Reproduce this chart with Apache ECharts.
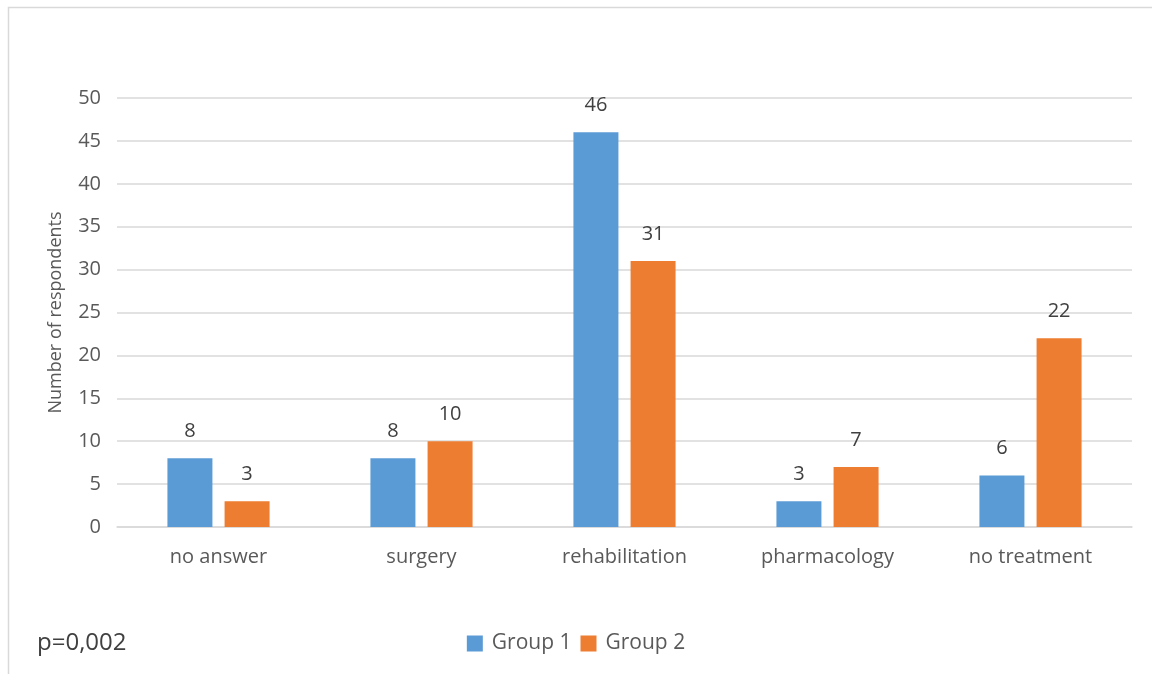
<!DOCTYPE html>
<html>
<head>
<meta charset="utf-8">
<script src="https://cdn.jsdelivr.net/npm/echarts@6/dist/echarts.min.js"></script>
<style>html,body{margin:0;padding:0;background:#fff}#c{width:1152px;height:674px}</style>
</head>
<body>
<div id="c"></div>
<script>
const categories = ['no answer', 'surgery', 'rehabilitation', 'pharmacology', 'no treatment'];
const group1 = [8, 8, 46, 3, 6];
const group2 = [3, 10, 31, 7, 22];
const yTicks = { min: 0, max: 50, interval: 5 };

const FONT = '"Open Sans", "DejaVu Sans", sans-serif';
const chart = echarts.init(document.getElementById('c'), null, { renderer: 'canvas' });
const labelStyle = { show: true, position: 'top', distance: 17, color: '#404040', fontSize: 20, fontFamily: FONT };
chart.setOption({
  animation: false,
  backgroundColor: '#fff',
  textStyle: { fontFamily: FONT },
  graphic: [
    { type: 'rect', shape: { x: 8.5, y: 7.5, width: 1160, height: 680 }, style: { fill: 'none', stroke: '#d9d9d9', lineWidth: 1.5 }, silent: true },
    { type: 'text', left: 37, top: 631, style: { text: 'p=0,002', fontSize: 24, fill: '#404040', fontFamily: FONT } }
  ],
  grid: { left: 117, right: 20, top: 98, bottom: 147, containLabel: false },
  legend: {
    bottom: 15, left: 'center',
    itemWidth: 16, itemHeight: 16, itemGap: 9,
    icon: 'rect',
    textStyle: { fontSize: 21, color: '#595959', fontFamily: FONT, padding: [0, 0, 0, 4] },
    data: ['Group 1', 'Group 2']
  },
  xAxis: {
    type: 'category', data: categories,
    axisLine: { lineStyle: { color: '#d9d9d9', width: 1.5 } },
    axisTick: { show: false },
    axisLabel: { fontSize: 20, color: '#595959', margin: 20, fontFamily: FONT }
  },
  yAxis: {
    type: 'value', min: yTicks.min, max: yTicks.max, interval: yTicks.interval,
    name: 'Number of respondents', nameLocation: 'middle', nameGap: 52, nameRotate: 90,
    nameTextStyle: { fontSize: 18, color: '#595959', fontFamily: FONT },
    axisLine: { show: false }, axisTick: { show: false },
    axisLabel: { fontSize: 20, color: '#595959', margin: 16, fontFamily: FONT },
    splitLine: { lineStyle: { color: '#d9d9d9', width: 1.5 } }
  },
  series: [
    { name: 'Group 1', type: 'bar', data: group1, barWidth: 45, barGap: '27%', itemStyle: { color: '#5b9bd5' }, label: labelStyle },
    { name: 'Group 2', type: 'bar', data: group2, barWidth: 45, barGap: '27%', itemStyle: { color: '#ed7d31' }, label: labelStyle }
  ]
});
</script>
</body>
</html>
